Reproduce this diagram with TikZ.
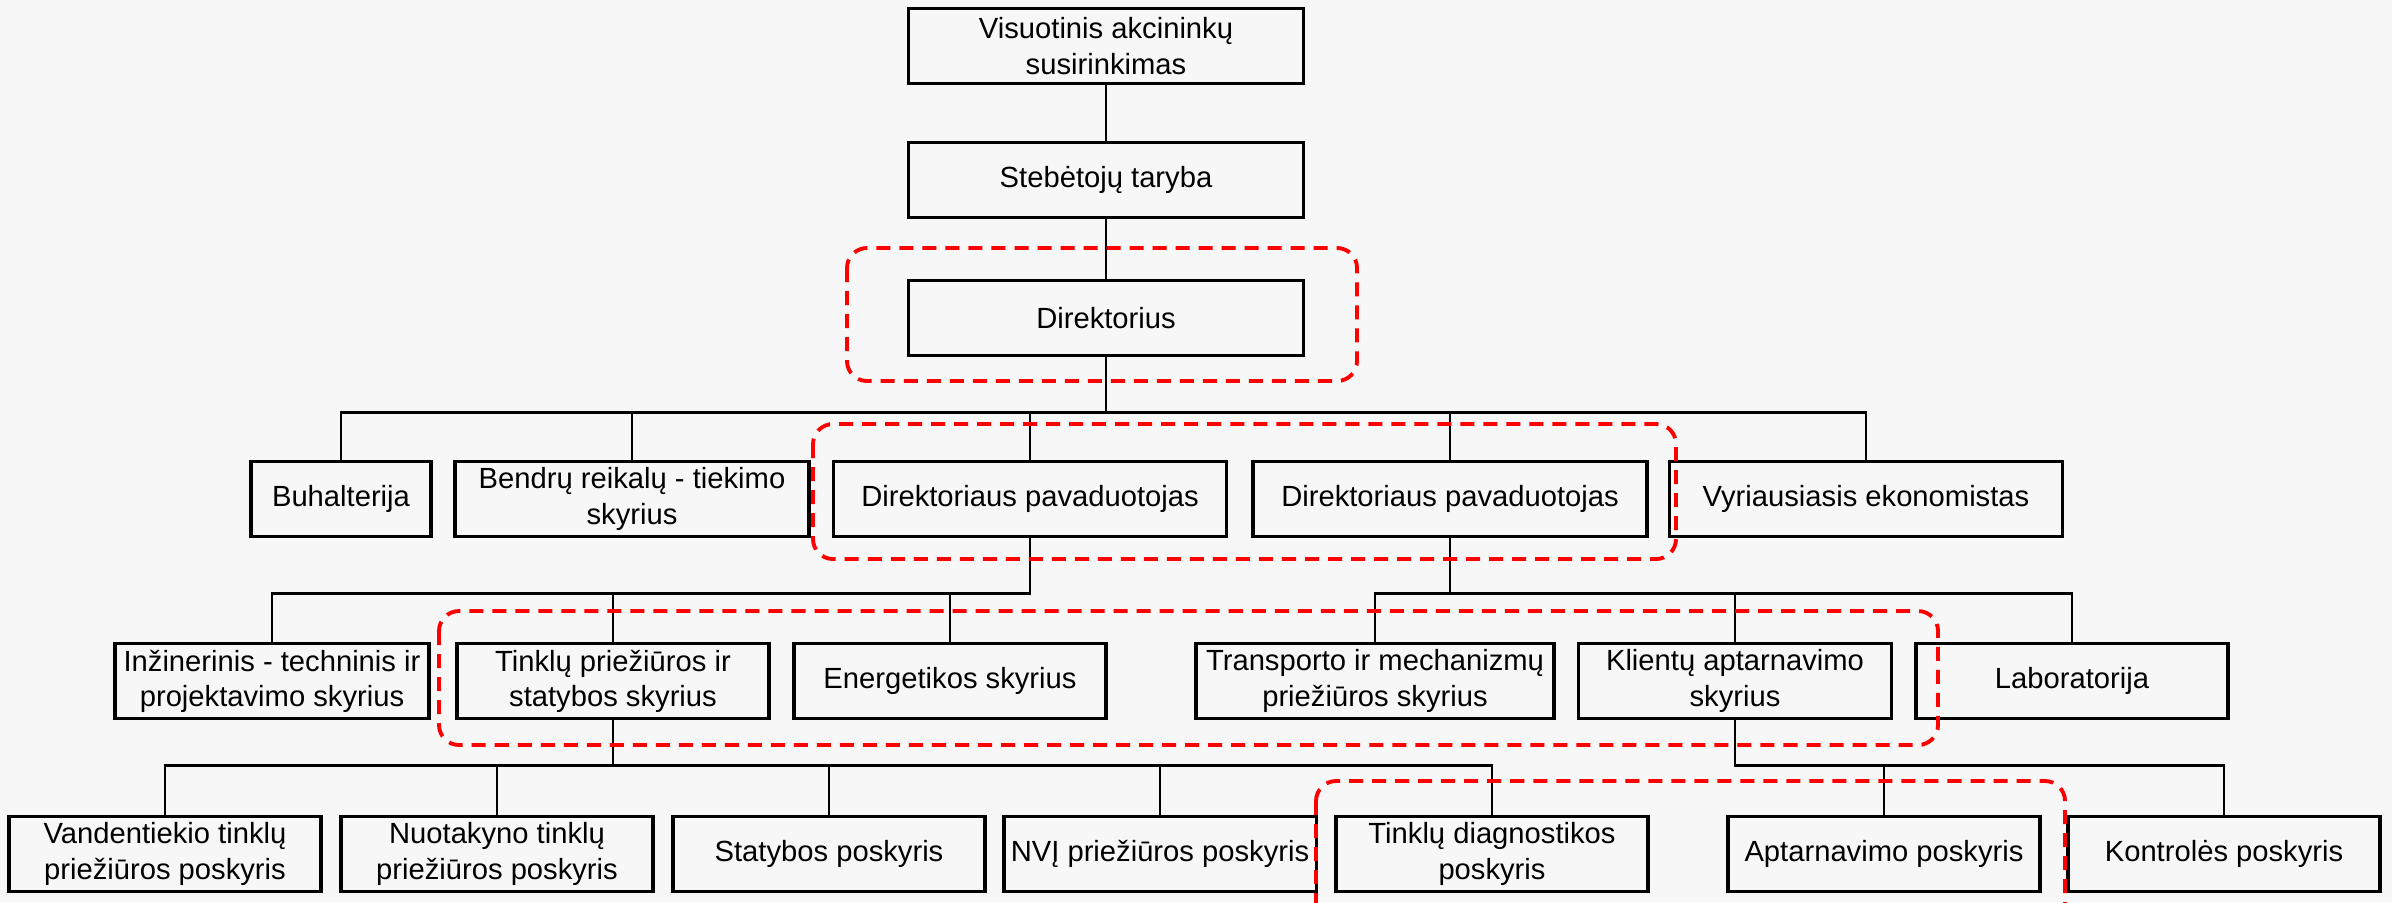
\documentclass[tikz,border=0pt]{standalone}
\usepackage{fontspec}
\setmainfont{Liberation Sans}
\definecolor{paper}{HTML}{F7F7F7}
\tikzset{
  unit/.style = {shape=rectangle, draw, line width=1pt, align=center,
                 minimum width=3.12cm, minimum height=0.75cm,
                 inner xsep=2pt, inner ysep=0.5pt,
                 font=\fontsize{8.3}{10}\selectfont},
  wide/.style = {unit, minimum width=3.95cm},
  link/.style = {line width=0.8pt},
  zone/.style = {draw=red, line width=1.1pt, dash pattern=on 0.14cm off 0.09cm,
                 rounded corners=0.2cm}
}

\begin{document}
\begin{tikzpicture}[x=0.01cm, y=-0.01cm]
\fill [paper] (0,0) rectangle (2392,902);

\node [wide] (gsm)   at (1106,46)  {Visuotinis akcininkų\\susirinkimas};
\node [wide] (board) at (1106,180) {Stebėtojų taryba};
\node [wide] (dir)   at (1106,318) {Direktorius};

\node [unit, minimum width=1.80cm] (buh)    at (341,499)  {Buhalterija};
\node [unit, minimum width=3.54cm] (supply) at (632,499)  {Bendrų reikalų - tiekimo\\skyrius};
\node [unit, minimum width=3.93cm] (dep1)   at (1030,499) {Direktoriaus pavaduotojas};
\node [unit, minimum width=3.94cm] (dep2)   at (1450,499) {Direktoriaus pavaduotojas};
\node [unit, minimum width=3.93cm] (econ)   at (1866,499) {Vyriausiasis ekonomistas};

\node [unit, minimum width=3.14cm] (eng)   at (272,681)  {Inžinerinis - techninis ir\\projektavimo skyrius};
\node [unit]                       (net)   at (613,681)  {Tinklų priežiūros ir\\statybos skyrius};
\node [unit]                       (energ) at (950,681)  {Energetikos skyrius};
\node [unit, minimum width=3.58cm] (trans) at (1375,681) {Transporto ir mechanizmų\\priežiūros skyrius};
\node [unit, minimum width=3.13cm] (cust)  at (1735,681) {Klientų aptarnavimo\\skyrius};
\node [unit]                       (lab)   at (2072,681) {Laboratorija};

\node [unit] (water)  at (165,854)  {Vandentiekio tinklų\\priežiūros poskyris};
\node [unit] (sewer)  at (497,854)  {Nuotakyno tinklų\\priežiūros poskyris};
\node [unit] (constr) at (829,854)  {Statybos poskyris};
\node [unit] (nvi)    at (1160,854) {NVĮ priežiūros poskyris};
\node [unit] (diag)   at (1492,854) {Tinklų diagnostikos\\poskyris};
\node [unit] (serv)   at (1884,854) {Aptarnavimo poskyris};
\node [unit] (ctrl)   at (2224,854) {Kontrolės poskyris};

\draw [link] (gsm) -- (board);
\draw [link] (board) -- (dir);
\foreach \c in {buh,supply,dep1,dep2,econ}
  \draw [link] (dir.south) -- ++(0,55) -| (\c.north);
\foreach \c in {eng,net,energ}
  \draw [link] (dep1.south) -- ++(0,55) -| (\c.north);
\foreach \c in {trans,cust,lab}
  \draw [link] (dep2.south) -- ++(0,55) -| (\c.north);
\foreach \c in {water,sewer,constr,nvi,diag}
  \draw [link] (net.south) -- ++(0,45) -| (\c.north);
\foreach \c in {serv,ctrl}
  \draw [link] (cust.south) -- ++(0,45) -| (\c.north);

\draw [zone] (847,248) rectangle (1357,381);
\draw [zone] (813,424) rectangle (1676,559);
\draw [zone] (439,611) rectangle (1938,745);
\begin{scope}
  \clip (0,0) rectangle (2392,902);
  \draw [zone] (1316,781) rectangle (2065,930);
\end{scope}
\end{tikzpicture}
\end{document}
